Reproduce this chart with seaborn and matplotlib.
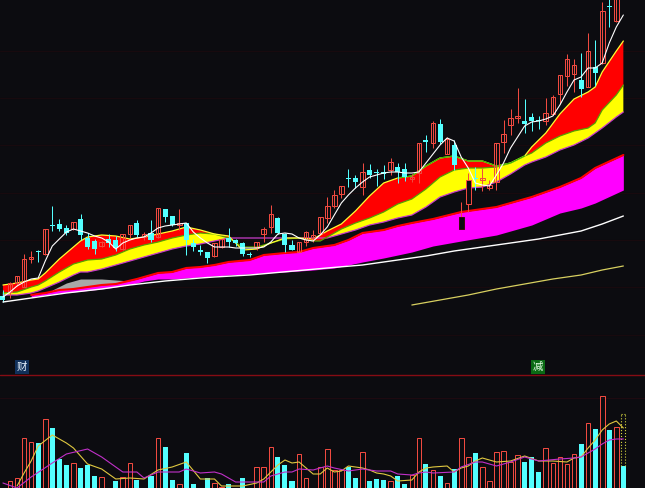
import matplotlib
matplotlib.use("Agg")
import matplotlib.pyplot as plt
import seaborn as sns
import pandas as pd

BG = "#0c0c10"
RED = "#f04a40"
CYAN = "#54ffff"

# candles (price panel scale runs top-down)
body_top = [296,283,276,259,257,251,229,225,224,228,222,219,238,241,242,239,240,234,225,223,234,233,
            208,209,216,223,223,243,250,252,243,239,238,240,243,254,242,229,214,218,234,245,242,232,
            235,217,206,195,186,178,178,172,170,172,172,162,167,169,177,143,140,123,124,139,145,217,
            180,178,178,185,143,134,118,116,121,117,120,113,97,75,59,65,80,51,67,11,6,-10]
body_bot = [300,292,283,287,259,252,254,226,229,233,229,235,247,249,246,243,248,249,234,235,237,240,
            237,217,225,225,240,247,252,258,256,247,242,243,254,255,247,234,227,233,245,250,252,242,
            238,233,218,206,194,179,182,187,175,173,174,170,172,177,179,173,142,143,142,154,165,229,
            204,179,180,188,182,142,125,118,124,121,121,121,114,94,76,74,89,87,73,63,7,21]
wick_hi = [290,282,276,254,251,250,229,206,219,225,222,214,233,239,241,234,236,234,225,220,232,220,
           208,209,216,209,223,239,245,252,243,239,228,239,242,252,242,227,205,217,233,240,242,231,
           230,217,197,190,186,169,175,163,164,169,165,158,163,163,174,143,135,121,119,137,140,202,
           173,167,168,180,143,120,109,88,99,113,116,98,95,75,54,59,53,33,40,2,-5,-12]
wick_lo = [302,298,286,287,263,262,255,231,231,235,230,240,249,254,247,247,251,250,238,237,240,242,
           238,222,226,230,255,251,255,263,257,248,247,246,256,257,250,242,233,234,252,250,252,246,
           242,234,223,208,198,187,188,195,178,186,179,175,183,181,182,183,152,148,144,154,170,229,
           212,190,191,190,190,153,135,123,133,131,129,125,115,104,86,92,97,87,86,64,27,22]
candle_up = ("crrrrcrccc" "rcccrccrrc" "rcrccrcccc" "rrccccrrrc" "ccrrrrrrrc"
             "crcccrccrr" "crcrcrrcrr" "rrrrcccrrr" "rrcrcrcr")
black_fill = [65, 66]
dark_edge = [65]

# volume
volume = [0,7,10,50,46,45,69,60,29,23,25,20,23,12,11,0,7,11,25,8,0,12,50,41,8,4,35,4,0,10,5,
          1,4,0,10,0,21,21,41,31,23,7,34,10,0,21,39,18,18,21,10,36,7,9,8,7,12,4,13,50,24,
          18,12,5,19,50,31,35,21,7,36,37,26,33,26,31,16,40,25,31,24,34,44,65,59,92,58,61,22]
volume_up = candle_up + "c"
vol_today_idx = 88
vol_today = 74

# ribbons: top of red, red/yellow edge, bottom of yellow
rib_idx = [0,2,4,5,6,8,10,11,12,14,16,18,20,22,24,26,28,30,32,34,36,38,40,42,44,45,46,48,50,52,54,56,58,
           60,62,64,66,68,70,72,74,75,77,79,81,83,84,85,87,88]
rib_a = [285,283,280,279,273,259,247,241,237,235,236,239,237,234,231,227,230,234,236,250,249,243,238,238,
         239,235,231,224,211,196,183,178,176,166,158,156,161,161,166,163,156,147,133,114,99,92,87,72,51,41]
rib_b = [293,292,287,285,281,272,264,262,260,259,255,249,245,242,238,235,233,234,238,247,247,243,239,238,
         241,241,237,229,223,218,212,204,199,189,177,170,168,168,167,163,156,153,143,136,131,128,123,110,95,85]
rib_c = [295,295,293,291,288,282,275,272,272,269,265,261,257,253,249,246,244,241,238,238,238,238,238,238,
         238,238,238,234,230,225,222,218,215,207,197,192,188,187,182,174,165,162,157,150,145,138,133,128,117,112]

# magenta band
band_idx = [4,6,8,10,14,16,19,20,22,24,26,28,30,32,35,37,40,42,44,47,49,51,54,56,58,61,65,70,75,79,82,84,88]
band_top = [295,293,290,289,285,284,279,277,273,272,268,267,265,262,260,255,253,252,248,245,240,233,230,226,
            223,219,212,207,197,187,178,168,155]
band_bot = [297,295,293,292,289,287,283,281,279,279,278,277,276,275,274,273,272,271,270,268,265,262,258,255,
            252,246,241,235,225,213,208,203,190]

# grey wedge in the early part
grey_idx = [7,9,11,14,16,18]
grey_top = [290,283,279,279,280,281]
grey_bot = [291,290,288,285,284,281]

# fast white average, one value per candle
ma5 = [297,292,286,282,279,278,261,246,239,232,229,231,233,236,238,242,249,243,240,238,237,233,228,226,225,224,
       223,232,238,243,247,247,247,248,248,248,248,247,242,234,233,234,238,240,241,235,227,215,203,195,188,182,
       177,175,173,172,172,173,173,172,163,154,145,138,141,157,168,183,185,186,175,163,148,137,126,122,121,119,
       116,105,92,80,77,68,68,63,43,27,15]

slow_idx = [0,4,9,14,18,23,28,30,35,46,51,56,60,64,70,76,82,85,88]
slow_ma = [302,298,293,289,285,281,278,277,275,268,265,260,256,251,245,239,231,224,216]
gold_idx = [58,62,66,70,74,78,82,85,88]
gold_ma = [305,300,295,289,284,279,275,270,266]

# volume averages
vol5_idx = [2,3,4,5,7,9,10,12,14,16,18,20,22,24,26,28,30,31,34,36,37,39,40,41,42,44,45,46,47,48,49,51,52,53,54,
            55,56,58,59,60,61,63,64,65,66,67,68,70,72,74,76,78,80,81,82,83,84,85,86,87,88]
vol5 = [2,15,27,42,53,45,40,24,19,9,10,9,18,21,26,9,9,2,2,5,9,23,28,25,26,14,14,20,16,17,22,20,18,15,14,
        12,7,8,16,20,21,22,16,20,22,27,30,26,27,32,27,27,26,30,31,40,48,58,64,67,60]
vol10_idx = [0,2,4,7,9,12,14,16,17,19,20,22,25,26,28,30,31,33,35,37,38,40,41,42,44,46,47,49,51,53,55,56,58,59,60,
             61,64,65,67,68,70,72,74,76,79,81,82,83,84,85,86,87,88]
vol10 = [5,0,11,25,34,39,31,21,16,16,10,16,16,19,15,16,14,6,6,6,12,16,16,19,18,22,20,17,19,17,17,14,13,15,16,
         15,16,21,26,26,22,26,31,27,29,30,31,35,39,44,48,49,49]

price_guides = [51, 98, 145, 193, 240, 287, 335]


def draw_line(ax, x, y, color, lw=1.0, z=4):
    sns.lineplot(x=x, y=y, ax=ax, color=color, linewidth=lw, errorbar=None, zorder=z, legend=False)


def draw_ribbons(ax):
    up_red = [a < b for a, b in zip(rib_a, rib_b)]
    up_yel = [b < c for b, c in zip(rib_b, rib_c)]
    ax.fill_between(rib_idx, rib_a, rib_b, where=up_red, interpolate=True, color="#ff0000", lw=0, zorder=1)
    ax.fill_between(rib_idx, rib_b, rib_c, where=up_yel, interpolate=True, color="#ffff00", lw=0, zorder=1)
    ax.fill_between(band_idx, band_top, band_bot, color="#ff00ff", lw=0, zorder=1)
    ax.fill_between(grey_idx, grey_top, grey_bot, color="#a8a8a8", lw=0, zorder=1)
    draw_line(ax, rib_idx, rib_c, "#c83cc8", 0.9, 2)
    draw_line(ax, rib_idx, rib_b, "#58a000", 0.9, 2)
    draw_line(ax, rib_idx, rib_a, "#ffff30", 0.9, 2)
    # the top edge turns green while the ribbon is flat
    draw_line(ax, rib_idx[31:41], rib_a[31:41], "#3cb400", 0.9, 2)
    draw_line(ax, band_idx, band_top, "#ff0000", 1.5, 2)


def draw_candles(ax):
    for i, col in enumerate(candle_up):
        c = RED if col == "r" else CYAN
        ax.vlines(i, wick_hi[i], wick_lo[i], color=c, lw=0.72, zorder=3, snap=True)
        h = max(body_bot[i] - body_top[i], 1)
        if col == "c":
            ax.bar(i, h, bottom=body_top[i], width=0.72, color=c, lw=0, zorder=3)
        else:
            face = BG if i in black_fill else "none"
            edge = "#3a0a0c" if i in dark_edge else c
            ax.bar(i, h, bottom=body_top[i], width=0.66, facecolor=face, edgecolor=edge, lw=0.72, zorder=3)


def draw_volume(ax):
    df = pd.DataFrame({"i": range(len(volume)), "vol": volume, "kind": list(volume_up)})
    cyan_df = df[df.kind == "c"]
    red_df = df[df.kind == "r"]
    sns.barplot(data=cyan_df, x="i", y="vol", ax=ax, native_scale=True, color=CYAN, saturation=1,
                width=0.72, linewidth=0, errorbar=None, zorder=3)
    sns.barplot(data=red_df, x="i", y="vol", ax=ax, native_scale=True, color=RED, saturation=1,
                fill=False, width=0.66, linewidth=0.72, errorbar=None, zorder=3)
    ax.vlines([vol_today_idx - 0.3, vol_today_idx + 0.3], volume[vol_today_idx], vol_today,
              color="#d8d840", lw=0.8, linestyles=":", zorder=3)
    ax.hlines(vol_today, vol_today_idx - 0.3, vol_today_idx + 0.3, color="#d8d840", lw=0.8, linestyles=":", zorder=3)
    draw_line(ax, vol5_idx, vol5, "#e0c840", 0.8, 4)
    draw_line(ax, vol10_idx, vol10, "#c030c8", 0.8, 5)


sns.set_theme(style="dark", rc={"axes.facecolor": BG, "figure.facecolor": BG})
plt.rcParams["font.family"] = ["Noto Sans CJK SC", "DejaVu Sans"]

fig = plt.figure(figsize=(6.45, 4.88), dpi=100)
ax_price = fig.add_axes([0, 113 / 488, 1, 375 / 488])
ax_vol = fig.add_axes([0, 0, 1, 113 / 488])

x_lim = (-2.95 / 7.05, (645 - 2.95) / 7.05)

for y in price_guides:
    ax_price.axhline(y, color="#180a0e", lw=0.8, zorder=0)
draw_ribbons(ax_price)
draw_candles(ax_price)
draw_line(ax_price, list(range(len(ma5))), ma5, "#ffffff", 0.8, 5)
draw_line(ax_price, slow_idx, slow_ma, "#ffffff", 1.0, 5)
draw_line(ax_price, gold_idx, gold_ma, "#d8d060", 0.9, 5)
ax_price.set_xlim(*x_lim)
ax_price.set_ylim(375, 0)
ax_price.set_axis_off()

ax_price.text(2.75, 367, "财", color="#e8f4ff", fontsize=7.5, ha="center", va="center",
              bbox=dict(facecolor="#10305a", edgecolor="none", pad=1.2), zorder=6)
ax_price.text(75.9, 367, "减", color="#e8ffe8", fontsize=7.5, ha="center", va="center",
              bbox=dict(facecolor="#0a6a14", edgecolor="none", pad=1.2), zorder=6)

draw_volume(ax_vol)
ax_vol.axhline(113, color="#860c14", lw=1.0, zorder=0, clip_on=False)
ax_vol.axhline(90, color="#1e0a10", lw=0.8, zorder=0)
ax_vol.set_xlim(*x_lim)
ax_vol.set_ylim(0, 113)
ax_vol.set_axis_off()

fig.savefig("out.png", dpi=100, facecolor=BG)
